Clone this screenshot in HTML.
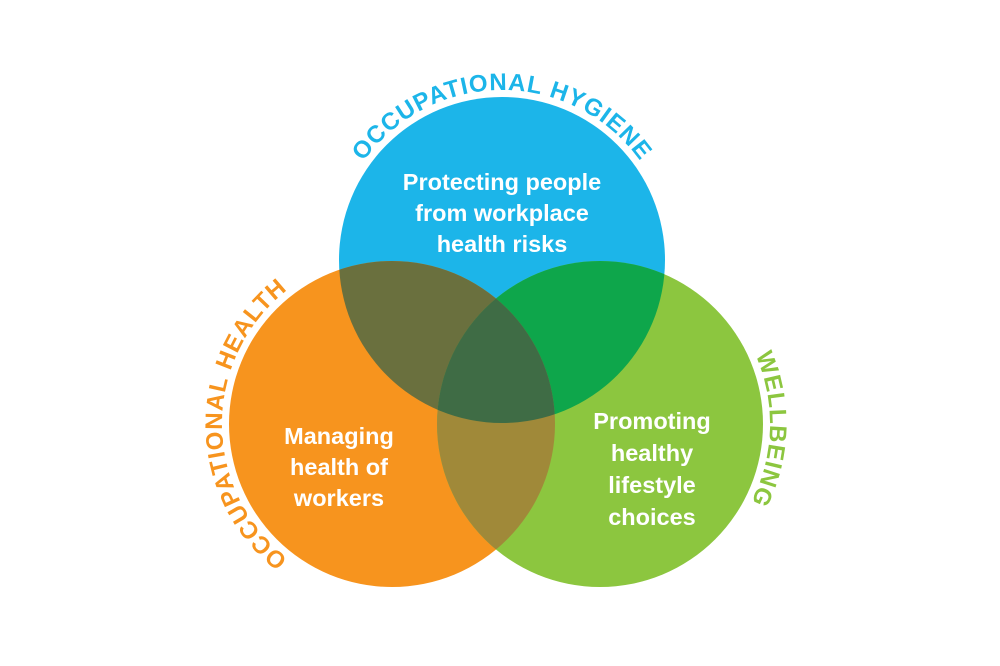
<!DOCTYPE html>
<html><head><meta charset="utf-8"><style>
html,body{margin:0;padding:0;background:#fff;}
svg{display:block;}
.lbl{font-family:"Liberation Sans",sans-serif;font-weight:bold;font-size:24px;letter-spacing:1px;}
.in{font-family:"Liberation Sans",sans-serif;font-weight:bold;font-size:23.5px;fill:#fff;text-anchor:middle;}
</style></head><body>
<svg width="1000" height="666" viewBox="0 0 1000 666">
<defs>
<clipPath id="cb"><circle cx="502" cy="260" r="163"/></clipPath>
<clipPath id="co"><circle cx="392" cy="424" r="163"/></clipPath>
<path id="pb" d="M 332 260 A 170 170 0 0 1 672 260"/>
<path id="po" d="M 392 594 A 170 170 0 0 1 392 254"/>
<path id="pg" d="M 600 254 A 170 170 0 0 1 600 594"/>
</defs>
<circle cx="502" cy="260" r="163" fill="#1cb5e9"/>
<circle cx="392" cy="424" r="163" fill="#f7941e"/>
<circle cx="600" cy="424" r="163" fill="#8cc63f"/>
<g clip-path="url(#cb)"><circle cx="392" cy="424" r="163" fill="#6a703e"/><circle cx="600" cy="424" r="163" fill="#0ea64b"/></g>
<g clip-path="url(#co)"><circle cx="600" cy="424" r="163" fill="#a08939"/></g>
<g clip-path="url(#cb)"><g clip-path="url(#co)"><circle cx="600" cy="424" r="163" fill="#3f6c45"/></g></g>
<text class="lbl" fill="#1cb5e9"><textPath href="#pb" startOffset="50%" text-anchor="middle">OCCUPATIONAL HYGIENE</textPath></text>
<text class="lbl" fill="#f7941e"><textPath href="#po" startOffset="50%" text-anchor="middle">OCCUPATIONAL HEALTH</textPath></text>
<text class="lbl" fill="#8cc63f"><textPath href="#pg" startOffset="51%" text-anchor="middle">WELLBEING</textPath></text>
<text class="in" x="502" y="190">Protecting people</text>
<text class="in" x="502" y="221">from workplace</text>
<text class="in" x="502" y="252">health risks</text>
<text class="in" x="339" y="444">Managing</text>
<text class="in" x="339" y="475">health of</text>
<text class="in" x="339" y="506">workers</text>
<text class="in" x="652" y="429">Promoting</text>
<text class="in" x="652" y="461">healthy</text>
<text class="in" x="652" y="493">lifestyle</text>
<text class="in" x="652" y="525">choices</text>
</svg>
</body></html>
